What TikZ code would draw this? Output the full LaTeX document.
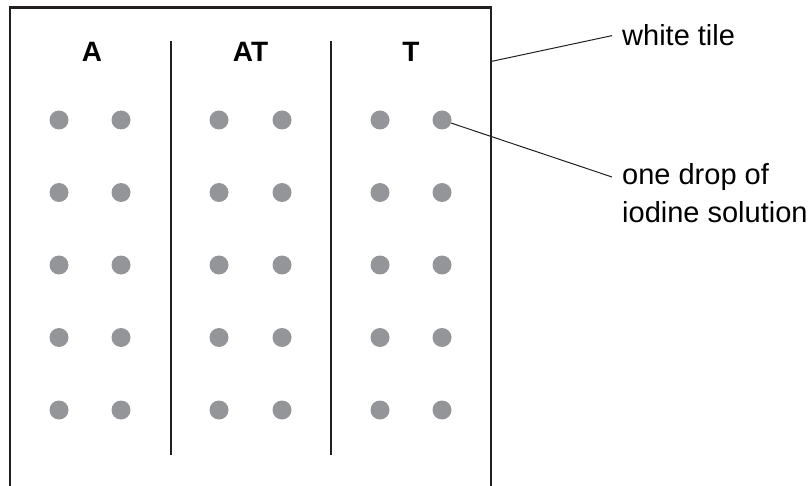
\documentclass[tikz,border=0pt]{standalone}
\usepackage{fontspec}
\setmainfont{Liberation Sans}
\usepackage{tikz}
\usetikzlibrary{calc}
\definecolor{dropgray}{HTML}{939598}
\definecolor{inkdark}{HTML}{231F20}

\begin{document}
\begin{tikzpicture}[x=1pt,y=-1pt]
\tikzstyle{drop}=[circle,fill=dropgray,minimum size=19pt,inner sep=0pt]
\tikzstyle{heading}=[font=\fontsize{28}{34}\selectfont\bfseries,inner sep=0pt,anchor=base]
\tikzstyle{callout}=[font=\fontsize{29}{38}\selectfont,inner sep=0pt,align=left]
\useasboundingbox (0,0) rectangle (810,486);
% tile and lanes
\draw[inkdark,line width=2.5pt] (10,486) -- (10,7.5) -- (491,7.5) -- (491,486);
\draw[inkdark,line width=2pt] (170.5,41) -- (170.5,455);
\draw[inkdark,line width=2pt] (331,41) -- (331,455);
\node[heading] (lab_A) at (92,62) {A};
\node[heading] (lab_AT) at (250.5,62) {AT};
\node[heading] (lab_T) at (411,62) {T};
% drops of iodine
\foreach \c/\x in {1/59,2/121,3/219,4/282,5/380,6/442}
  \foreach \r/\y in {1/120,2/192.5,3/265,4/337.5,5/410}
    \node[drop] (d\c\r) at (\x,\y) {};
% labels
\node[callout,anchor=base west] (white) at (622,46) {white tile};
\node[callout,anchor=north west] (iodine) at (622,163) {one drop of\\iodine solution};
\coordinate (tile_edge) at (491,61.5);
\draw[inkdark,line width=1pt] (tile_edge) -- ([xshift=-10pt]white.west);
\draw[inkdark,line width=1pt] (d61) -- ($(iodine.north west)+(-10,14)$);
\end{tikzpicture}
\end{document}
